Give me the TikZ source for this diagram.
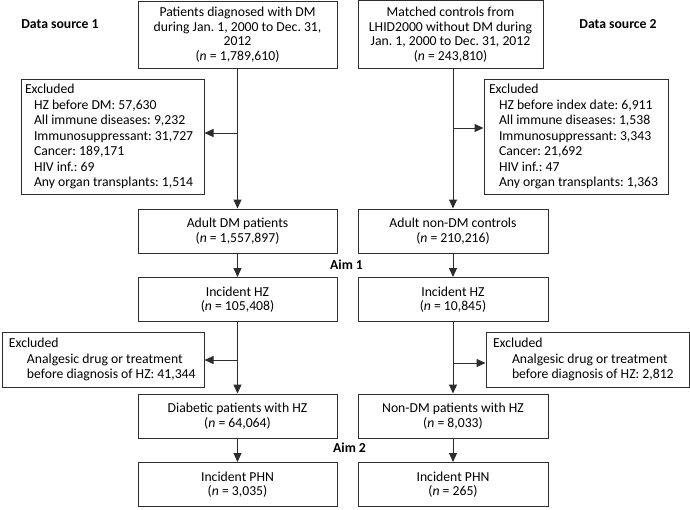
\documentclass[tikz,border=0pt]{standalone}
\usepackage{fontspec}
\setmainfont{Carlito}
\usepackage{xcolor}
\usetikzlibrary{arrows.meta, math, positioning}
\definecolor{myline}{RGB}{45,45,45}

\tikzset{
  flowbox/.style={draw=myline, line width=1pt, align=flush center, inner sep=2pt, minimum width=#1, minimum height=44pt},
  flowbox/.default=199pt,
  exclbox/.style={draw=myline, line width=1pt, align=flush left, inner xsep=2pt, inner ysep=2pt, text width=#1, font=\fontsize{13.7}{15.5}\selectfont},
  srclabel/.style={font=\fontsize{13.7}{15}\selectfont\bfseries},
  flowarrow/.style={draw=myline, line width=1pt, -{Triangle[length=9pt,width=8pt]}},
}

\begin{document}
\frenchspacing
\begin{tikzpicture}[x=1pt, y=-1pt, every node/.style={font=\fontsize{13.7}{14.5}\selectfont}]
\tikzmath{
\xl=237.5;
\xr=453;
}
\useasboundingbox (0,0) rectangle (690,509);

\node[srclabel] (src1) at (60,24) {Data source 1};
\node[srclabel] (src2) at (618,24) {Data source 2};

\node[flowbox, minimum height=67pt] (topL) at (\xl,34.5) {Patients diagnosed with DM\\during Jan. 1, 2000 to Dec. 31,\\2012\\(\textit{n} = 1,789,610)};
\node[flowbox=185pt, minimum height=68pt] (topR) at (450.5,34.5) {Matched controls from\\LHID2000 without DM during\\Jan. 1, 2000 to Dec. 31, 2012\\(\textit{n} = 243,810)};

\node[exclbox=179pt, minimum height=115pt] (exL1) at (112.5,136.5) {\hspace*{2pt}Excluded\\
\hspace*{11pt}HZ before DM: 57,630\\
\hspace*{11pt}All immune diseases: 9,232\\
\hspace*{11pt}Immunosuppressant: 31,727\\
\hspace*{11pt}Cancer: 189,171\\
\hspace*{11pt}HIV inf.: 69\\
\hspace*{11pt}Any organ transplants: 1,514};
\node[exclbox=180pt, minimum height=115pt] (exR1) at (576,136.5) {\hspace*{3pt}Excluded\\
\hspace*{13pt}HZ before index date: 6,911\\
\hspace*{13pt}All immune diseases: 1,538\\
\hspace*{13pt}Immunosuppressant: 3,343\\
\hspace*{13pt}Cancer: 21,692\\
\hspace*{13pt}HIV inf.: 47\\
\hspace*{13pt}Any organ transplants: 1,363};

\node[flowbox] (adultL) at (\xl,231) {Adult DM patients\\(\textit{n} = 1,557,897)};
\node[flowbox=190pt] (adultR) at (\xr,231) {Adult non-DM controls\\(\textit{n} = 210,216)};
\node[srclabel] (aim1) at (346.5,265) {Aim 1};
\node[flowbox] (hzL) at (\xl,299.5) {Incident HZ\\(\textit{n} = 105,408)};
\node[flowbox=190pt] (hzR) at (\xr,299.5) {Incident HZ\\(\textit{n} = 10,845)};

\node[exclbox=198pt, minimum height=55pt] (exL2) at (103,359.5) {\hspace*{5pt}Excluded\\
\hspace*{23pt}Analgesic drug or treatment\\
\hspace*{23pt}before diagnosis of HZ: 41,344};
\node[exclbox=199pt, minimum height=55pt] (exR2) at (587.5,359.5) {\hspace*{5pt}Excluded\\
\hspace*{24pt}Analgesic drug or treatment\\
\hspace*{24pt}before diagnosis of HZ: 2,812};

\node[flowbox] (dmhzL) at (\xl,416) {Diabetic patients with HZ\\(\textit{n} = 64,064)};
\node[flowbox=190pt] (dmhzR) at (\xr,416) {Non-DM patients with HZ\\(\textit{n} = 8,033)};
\node[srclabel] (aim2) at (349.5,448) {Aim 2};
\node[flowbox] (phnL) at (\xl,484.5) {Incident PHN\\(\textit{n} = 3,035)};
\node[flowbox=190pt] (phnR) at (\xr,484.5) {Incident PHN\\(\textit{n} = 265)};

\coordinate (jL1) at (\xl,133);
\coordinate (jR1) at (\xr,128);
\coordinate (jL2) at (\xl,360);
\coordinate (jR2) at (\xr,363);

\draw[flowarrow] (topL.south) -- (adultL.north);
\draw[flowarrow] (adultR.north |- topR.south) -- (adultR.north);
\draw[flowarrow] (jL1) -- (jL1 -| exL1.east);
\draw[flowarrow] (jR1) -- (jR1 -| exR1.west);

\draw[flowarrow] (adultL) -- (hzL);
\draw[flowarrow] (adultR) -- (hzR);

\draw[flowarrow] (hzL) -- (dmhzL);
\draw[flowarrow] (hzR) -- (dmhzR);
\draw[flowarrow] (jL2) -- (jL2 -| exL2.east);
\draw[flowarrow] (jR2) -- (jR2 -| exR2.west);

\draw[flowarrow] (dmhzL) -- (phnL);
\draw[flowarrow] (dmhzR) -- (phnR);

\end{tikzpicture}
\end{document}
